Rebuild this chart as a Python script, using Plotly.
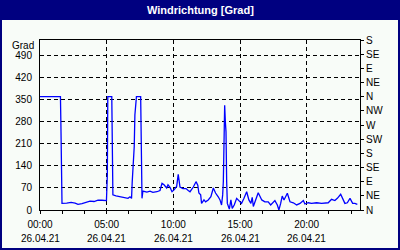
import plotly.graph_objects as go
import pandas as pd

# ---- data ----
times = [
    "00:00", "01:32", "01:34", "01:36", "01:39", "02:00", "02:20", "02:38", "02:51", "03:09",
    "03:27", "03:45", "04:03", "04:21", "04:39", "04:59", "05:03", "05:05", "05:23", "05:25",
    "05:28", "05:42", "06:00", "06:18", "06:36", "06:45", "06:52", "06:55", "07:04", "07:07",
    "07:14", "07:33", "07:36", "07:39", "07:43", "08:01", "08:15", "08:28", "08:46", "09:00",
    "09:09", "09:18", "09:30", "09:36", "09:45", "09:54", "10:03", "10:15", "10:22", "10:30",
    "10:43", "10:57", "11:07", "11:15", "11:30", "11:42", "11:50", "11:55", "12:03", "12:07",
    "12:18", "12:25", "12:37", "12:49", "13:00", "13:10", "13:22", "13:30", "13:37", "13:42",
    "13:45", "13:48", "13:51", "13:54", "13:57", "14:00", "14:03", "14:12", "14:19", "14:25",
    "14:34", "14:45", "14:55", "15:07", "15:18", "15:30", "15:40", "15:49", "15:55", "16:00",
    "16:22", "16:38", "16:52", "17:07", "17:18", "17:37", "17:48", "17:55", "18:03", "18:10",
    "18:18", "18:33", "18:45", "19:00", "19:15", "19:30", "19:45", "19:52", "20:07", "20:22",
    "20:45", "21:07", "21:37", "21:52", "22:07", "22:18", "22:33", "22:52", "23:03", "23:15",
    "23:27", "23:37", "23:48",
]
direction = [
    360, 360, 275, 100, 21, 22, 24, 22, 18, 20,
    24, 28, 27, 31, 31, 30, 110, 360, 360, 122,
    48, 45, 42, 38, 37, 42, 37, 90, 201, 302,
    360, 360, 117, 37, 60, 57, 60, 56, 58, 62,
    85, 80, 70, 80, 72, 58, 64, 75, 113, 73,
    68, 68, 62, 58, 73, 90, 79, 54, 48, 21,
    32, 26, 32, 42, 70, 54, 42, 32, 16, 48,
    90, 249, 333, 281, 249, 90, 21, 3, 32, 5,
    16, 37, 29, 21, 37, 58, 32, 21, 40, 11,
    55, 32, 26, 26, 16, 30, 16, 0, 21, 44,
    32, 53, 26, 23, 16, 21, 30, 19, 23, 21,
    23, 21, 23, 34, 30, 37, 50, 21, 23, 37,
    21, 21, 18,
]
day = "2021-04-26"
time_ticks = ["00:00", "05:00", "10:00", "15:00", "20:00"]
date_labels = ["26.04.21"] * 5
left_ticks = [0, 70, 140, 210, 280, 350, 420, 490]
right_vals = [0, 45, 90, 135, 180, 225, 270, 315, 360, 405, 450, 495, 540]
right_text = ["N", "NE", "E", "SE", "S", "SW", "W", "NW", "N", "NE", "E", "SE", "S"]
title = "Windrichtung [Grad]"
unit = "Grad"

# ---- figure ----
NAVY = "#000080"
BG = "#F8FCF8"
FONT = "Liberation Sans"

x = pd.to_datetime([f"{day} {t}" for t in times])
tickpos = pd.to_datetime([f"{day} {t}" for t in time_ticks])

fig = go.Figure()
fig.add_trace(go.Scatter(x=x, y=direction, mode="lines",
                         line=dict(color="#0000FF", width=1.3),
                         showlegend=False, hoverinfo="skip"))
fig.add_trace(go.Scatter(x=[x[0]], y=[0], yaxis="y2", mode="lines",
                         line=dict(width=0), showlegend=False, hoverinfo="skip"))

W, H = 400, 250
L, R, T, B = 40, 40, 40, 40
pw, ph = W - L - R, H - T - B


def px(xp):
    return (xp - L) / pw


def py(yp):
    return (H - B - yp) / ph


fig.update_layout(
    width=W, height=H,
    margin=dict(l=L, r=R, t=T, b=B, pad=0),
    paper_bgcolor=BG, plot_bgcolor=BG,
    font=dict(family=FONT, size=10, color="black"),
    showlegend=False,
    xaxis=dict(
        range=[pd.Timestamp(f"{day} 00:00"), pd.Timestamp(f"{day} 00:00") + pd.Timedelta(hours=24)],
        tickmode="array", tickvals=tickpos, ticktext=time_ticks,
        ticks="outside", ticklen=3, tickcolor="black", tickwidth=1,
        ticklabelstandoff=2,
        showgrid=True, gridcolor="black", griddash="4px,3px", gridwidth=1,
        showline=True, linecolor="black", linewidth=1, mirror=True,
        zeroline=False,
        minor=dict(dtick=100 * 60 * 1000, tick0=f"{day} 00:00", ticks="outside",
                   ticklen=3, tickcolor="black", showgrid=False),
        tickfont=dict(size=10),
    ),
    yaxis=dict(
        range=[0, 540], tickmode="array", tickvals=left_ticks,
        ticks="", ticklabelstandoff=5,
        showgrid=True, gridcolor="black", griddash="4px,3px", gridwidth=1,
        showline=True, linecolor="black", linewidth=1, mirror=True,
        zeroline=False, tickfont=dict(size=10),
    ),
    yaxis2=dict(
        range=[0, 540], overlaying="y", side="right",
        tickmode="array", tickvals=right_vals, ticktext=right_text,
        ticks="outside", ticklen=3, tickcolor="black",
        showgrid=False, zeroline=False, showline=True, linecolor="black",
        tickfont=dict(size=10),
    ),
)

shapes = [
    dict(type="rect", xref="paper", yref="paper", x0=px(0), x1=px(W), y0=py(0), y1=py(20),
         fillcolor=NAVY, line=dict(width=0), layer="below"),
    dict(type="rect", xref="paper", yref="paper", x0=px(0), x1=px(2), y0=py(0), y1=py(H),
         fillcolor=NAVY, line=dict(width=0), layer="below"),
    dict(type="rect", xref="paper", yref="paper", x0=px(W - 2), x1=px(W), y0=py(0), y1=py(H),
         fillcolor=NAVY, line=dict(width=0), layer="below"),
    dict(type="rect", xref="paper", yref="paper", x0=px(0), x1=px(W), y0=py(H - 2), y1=py(H),
         fillcolor=NAVY, line=dict(width=0), layer="below"),
]
fig.update_layout(shapes=shapes)

ann = [
    dict(text=f"<b>{title}</b>", xref="paper", yref="paper", x=0.5, y=py(10),
         xanchor="center", yanchor="middle", showarrow=False,
         font=dict(color="white", size=11, family=FONT)),
    dict(text=unit, xref="paper", yref="paper", x=px(36), y=py(45),
         xanchor="right", yanchor="middle", showarrow=False,
         font=dict(size=10, family=FONT)),
]
for tp, lab in zip(tickpos, date_labels):
    ann.append(dict(text=lab, xref="x", yref="paper", x=tp, y=py(238),
                    xanchor="center", yanchor="middle", showarrow=False,
                    font=dict(size=10, family=FONT)))
fig.update_layout(annotations=ann)

fig.write_html("out.html")
